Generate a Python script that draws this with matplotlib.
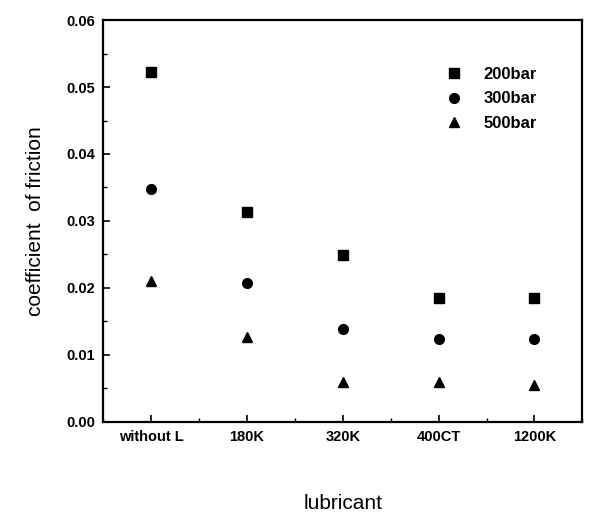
import numpy as np
import matplotlib
matplotlib.use("Agg")
import matplotlib.pyplot as plt
from matplotlib.ticker import MultipleLocator

plt.rcParams['font.family'] = ['Liberation Sans', 'DejaVu Sans']

# data
lubricants = ["without L", "180K", "320K", "400CT", "1200K"]
p200 = [0.0523, 0.0313, 0.0249, 0.0185, 0.0185]
p300 = [0.0348, 0.0208, 0.0138, 0.0123, 0.0123]
p500 = [0.0210, 0.0126, 0.0059, 0.0059, 0.0055]

x = np.arange(1, len(lubricants) + 1)

fig = plt.figure(figsize=(5.9, 5.15), dpi=100)
ax = fig.add_axes([0.175, 0.181, 0.812, 0.780])

ax.plot(x, p200, 's', color='black', markersize=6.5, label='200bar')
ax.plot(x, p300, 'o', color='black', markersize=7, label='300bar')
ax.plot(x, p500, '^', color='black', markersize=7.5, label='500bar')

ax.set_xlim(0.5, 5.5)
ax.set_ylim(0, 0.06)
ax.set_xticks(x)
ax.set_xticklabels(lubricants)
ax.xaxis.set_minor_locator(MultipleLocator(0.5))
ax.yaxis.set_major_locator(MultipleLocator(0.01))
ax.yaxis.set_minor_locator(MultipleLocator(0.005))
ax.yaxis.set_major_formatter(matplotlib.ticker.FormatStrFormatter('%.2f'))

ax.tick_params(which='both', direction='in', top=False, right=False)
ax.tick_params(which='major', length=5, width=1.2, labelsize=10.5, pad=6)
ax.tick_params(which='minor', length=3, width=1.0)
for lab in ax.get_xticklabels() + ax.get_yticklabels():
    lab.set_fontweight('bold')
for s in ax.spines.values():
    s.set_linewidth(1.6)

ax.set_xlabel('lubricant', fontsize=15, labelpad=36)
ax.set_ylabel('coefficient  of friction', fontsize=15, labelpad=15)

leg = ax.legend(loc='upper left', bbox_to_anchor=(0.675, 0.92), frameon=False,
                handletextpad=1.0, handlelength=1.5, labelspacing=0.55,
                prop={'size': 12, 'weight': 'bold'})

fig.savefig('out.png', dpi=100)
